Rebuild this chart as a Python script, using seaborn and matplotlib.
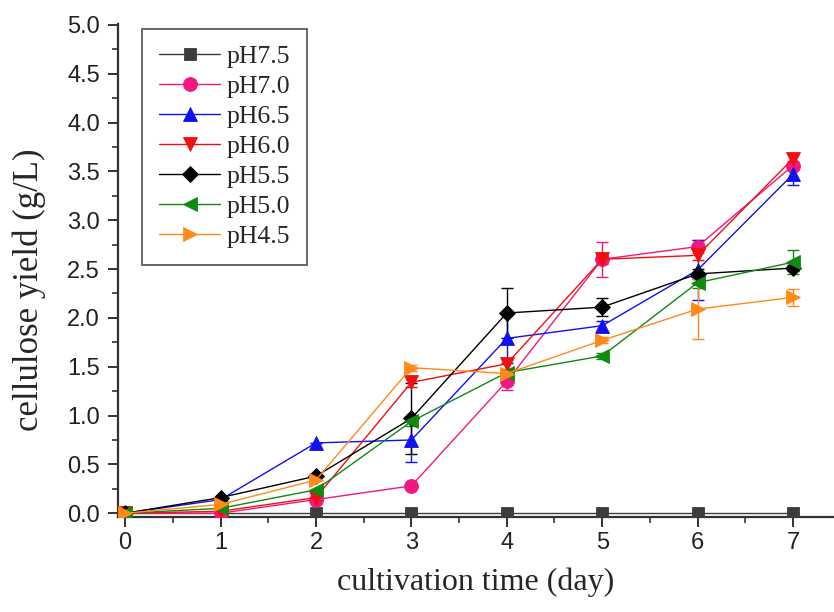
import numpy as np
import pandas as pd
import matplotlib
matplotlib.use("Agg")
import matplotlib.pyplot as plt
import seaborn as sns
from matplotlib.ticker import MultipleLocator

# cultivation days
days = [0, 1, 2, 3, 4, 5, 6, 7]

# mean cellulose yield (g/L) per pH condition
labels = ["pH7.5", "pH7.0", "pH6.5", "pH6.0", "pH5.5", "pH5.0", "pH4.5"]
y_ph75 = [0.00, 0.00, 0.00, 0.00, 0.00, 0.00, 0.00, 0.00]
y_ph70 = [0.00, 0.00, 0.14, 0.28, 1.35, 2.60, 2.73, 3.56]
y_ph65 = [0.00, 0.14, 0.72, 0.75, 1.79, 1.92, 2.49, 3.47]
y_ph60 = [0.00, 0.02, 0.16, 1.34, 1.53, 2.60, 2.64, 3.63]
y_ph55 = [0.00, 0.16, 0.38, 0.97, 2.05, 2.11, 2.45, 2.51]
y_ph50 = [0.00, 0.05, 0.24, 0.94, 1.44, 1.61, 2.36, 2.57]
y_ph45 = [0.00, 0.09, 0.34, 1.49, 1.43, 1.77, 2.09, 2.21]

# standard deviations
e_ph75 = [0, 0, 0, 0, 0, 0, 0, 0]
e_ph70 = [0, 0, 0, 0, 0.09, 0.18, 0.07, 0.05]
e_ph65 = [0, 0, 0, 0.23, 0.25, 0.05, 0.31, 0.11]
e_ph60 = [0, 0, 0, 0.05, 0.05, 0.05, 0.05, 0.05]
e_ph55 = [0, 0, 0, 0.36, 0.26, 0.09, 0.05, 0.03]
e_ph50 = [0, 0, 0, 0.05, 0.03, 0.03, 0.05, 0.12]
e_ph45 = [0, 0, 0, 0.03, 0.03, 0.03, 0.31, 0.09]

means = [y_ph75, y_ph70, y_ph65, y_ph60, y_ph55, y_ph50, y_ph45]
errs = [e_ph75, e_ph70, e_ph65, e_ph60, e_ph55, e_ph50, e_ph45]

colors = ["#3c3c3c", "#f0187f", "#1010f0", "#f01010", "#000000", "#108a10", "#ff8a1a"]
markers = ["s", "o", "^", "v", "D", "<", ">"]
msizes = [8.5, 10, 10, 10, 8, 10, 10]

df = pd.DataFrame({
    "day": np.tile(days, len(labels)),
    "yield": np.concatenate(means),
    "ph": np.repeat(labels, len(days)),
})

sns.set_style("ticks")
plt.rcParams["font.family"] = ["Liberation Sans", "DejaVu Sans"]

fig = plt.figure(figsize=(8.34, 6.12), dpi=100)
ax = fig.add_axes([0.1415, 0.155, 0.8585, 0.806])

for lab, c, m, ms, y, e in zip(labels, colors, markers, msizes, means, errs):
    sub = df[df["ph"] == lab]
    ax.errorbar(days, y, yerr=e, fmt="none", ecolor=c, elinewidth=1.0,
                capsize=4.5, capthick=1.0, zorder=2)
    sns.lineplot(data=sub, x="day", y="yield", color=c, marker=m,
                 markersize=ms, markeredgewidth=0.6, markeredgecolor=c,
                 linewidth=1.0, label=lab, ax=ax, zorder=3)

ax.set_xlim(-0.075, 7.43)
ax.set_ylim(-0.04, 5.01)
ax.xaxis.set_major_locator(MultipleLocator(1))
ax.xaxis.set_minor_locator(MultipleLocator(0.5))
ax.yaxis.set_major_locator(MultipleLocator(0.5))
ax.yaxis.set_minor_locator(MultipleLocator(0.25))
ax.yaxis.set_major_formatter(matplotlib.ticker.FormatStrFormatter("%.1f"))

for side in ["top", "right"]:
    ax.spines[side].set_visible(False)
for side in ["left", "bottom"]:
    ax.spines[side].set_linewidth(1.6)
    ax.spines[side].set_color("#333333")

ax.tick_params(which="major", direction="out", length=7, width=1.4,
               labelsize=17, color="#333333", labelcolor="#222222")
ax.tick_params(axis="y", which="major", pad=6)
ax.tick_params(which="minor", direction="out", length=4.5, width=1.2,
               color="#333333")

serif = ["Liberation Serif", "DejaVu Serif"]
ax.set_xlabel("cultivation time (day)", fontsize=23, family=serif, labelpad=10)
ax.set_ylabel("cellulose yield (g/L)", fontsize=25, family=serif)
ax.yaxis.set_label_coords(-0.1, 0.46)

handles, leg_labels = ax.get_legend_handles_labels()
leg = ax.legend(handles, leg_labels, loc="upper left",
                bbox_to_anchor=(0.0335, 0.99), borderaxespad=0,
                frameon=True, fancybox=False, edgecolor="#333333",
                prop={"family": serif, "size": 18.5}, handlelength=2.4,
                labelspacing=0.27, handletextpad=0.25, borderpad=0.65)
leg.get_frame().set_linewidth(1.3)

fig.savefig("out.png", dpi=100)
